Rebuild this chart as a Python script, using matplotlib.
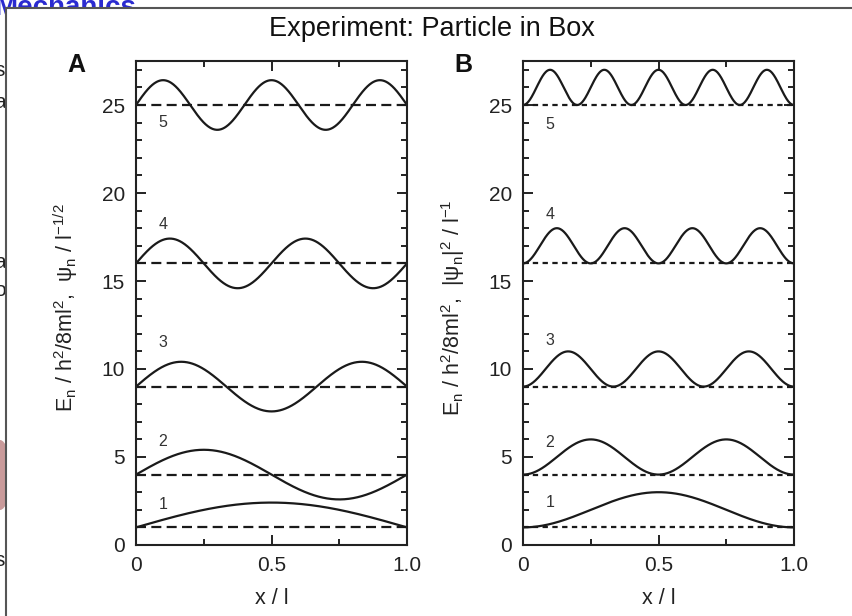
import numpy as np
import matplotlib
matplotlib.use("Agg")
import matplotlib.pyplot as plt
from matplotlib.patches import Rectangle, Ellipse
from matplotlib.lines import Line2D
from matplotlib.ticker import MultipleLocator, FixedLocator

plt.rcParams['font.family'] = ['Liberation Sans', 'DejaVu Sans']
plt.rcParams['mathtext.fontset'] = 'custom'
plt.rcParams['mathtext.rm'] = 'Liberation Sans'
plt.rcParams['mathtext.default'] = 'regular'

# energy levels E_n (units h^2/8ml^2) and quantum numbers
n_levels = [1, 2, 3, 4, 5]
energies = [1, 4, 9, 16, 25]
psi_amp = 1.41        # amplitude of psi_n
prob_peak = 2.0       # peak of |psi_n|^2
x_ticks = [0, 0.5, 1.0]
x_ticklabels = ['0', '0.5', '1.0']
y_ticks = [0, 5, 10, 15, 20, 25]
# where the small level numbers sit (x, y in data units)
label_pos_a = [(0.1, 2.3), (0.1, 5.9), (0.1, 11.5), (0.1, 18.2), (0.1, 24.0)]
label_pos_b = [(0.1, 2.4), (0.1, 5.8), (0.1, 11.6), (0.1, 18.8), (0.1, 23.9)]

W, H = 852, 616
fig = plt.figure(figsize=(W / 100, H / 100), dpi=100)

# background slide bits peeking out around the frame
fig.text(-6 / W, 1 - 15 / H, 'Mechanics', color='#2a2ad0', fontsize=20,
         fontweight='bold', va='baseline', zorder=-3)
fig.patches.append(Ellipse((0, 1 - 475 / H), 22 / W, 70 / H, transform=fig.transFigure,
                           facecolor='#c99a9a', edgecolor='none', zorder=-3))
for yy, ch in [(70, 's'), (103, 'a'), (262, 'a'), (290, 'o'), (560, 's')]:
    fig.text(-6 / W, 1 - yy / H, ch, fontsize=15, color='#222', va='center', zorder=-3)
fig.patches.append(Rectangle((6 / W, 0), 1, 1 - 8 / H, transform=fig.transFigure,
                             facecolor='white', edgecolor='none', zorder=-2))
fig.lines.append(Line2D([6 / W, 6 / W], [0, 1 - 8 / H], transform=fig.transFigure,
                        color='#555', lw=1.5, zorder=-1))
fig.lines.append(Line2D([6 / W, 1], [1 - 8 / H, 1 - 8 / H], transform=fig.transFigure,
                        color='#555', lw=1.5, zorder=-1))

fig.text(432 / W, 1 - 29 / H, 'Experiment: Particle in Box', ha='center', va='center',
         fontsize=19.5, color='#111')

x = np.linspace(0, 1, 500)
ax_a = fig.add_axes([136 / W, 1 - 545 / H, 271 / W, 484 / H])
ax_b = fig.add_axes([523 / W, 1 - 545 / H, 271 / W, 484 / H])

for n, e, (lx, ly) in zip(n_levels, energies, label_pos_a):
    ax_a.plot(x, e + psi_amp * np.sin(n * np.pi * x), color='#1a1a1a', lw=1.6)
    ax_a.axhline(e, color='#1a1a1a', lw=1.6, ls=(0, (4.5, 2.4)))
    ax_a.text(lx, ly, str(n), fontsize=11.5, color='#333', ha='center', va='center')

for n, e, (lx, ly) in zip(n_levels, energies, label_pos_b):
    ax_b.plot(x, e + prob_peak * np.sin(n * np.pi * x) ** 2, color='#1a1a1a', lw=1.6)
    ax_b.axhline(e, color='#1a1a1a', lw=1.6, ls=(0, (2.4, 2.0)))
    ax_b.text(lx, ly, str(n), fontsize=11.5, color='#333', ha='center', va='center')

for ax, letter, ylab in [
        (ax_a, 'A', 'E$_n$ / h$^2$/8ml$^2$,  ψ$_n$ / l$^{-1/2}$'),
        (ax_b, 'B', 'E$_n$ / h$^2$/8ml$^2$,  |ψ$_n$|$^2$ / l$^{-1}$')]:
    ax.set_xlim(0, 1)
    ax.set_ylim(0, 27.5)
    ax.xaxis.set_major_locator(FixedLocator(x_ticks))
    ax.set_xticklabels(x_ticklabels)
    ax.xaxis.set_minor_locator(MultipleLocator(0.25))
    ax.yaxis.set_major_locator(FixedLocator(y_ticks))
    ax.yaxis.set_minor_locator(MultipleLocator(1))
    ax.tick_params(which='both', direction='in', top=True, right=True,
                   width=1.4, color='#222', labelsize=15, labelcolor='#222', pad=8)
    ax.tick_params(which='major', length=7)
    ax.tick_params(which='minor', length=4.3)
    for sp in ax.spines.values():
        sp.set_linewidth(1.5)
        sp.set_color('#222')
    ax.set_xlabel('x / l', fontsize=15.5, color='#222', labelpad=9)
    ax.set_ylabel(ylab, fontsize=15.5, color='#222')
    ax.yaxis.set_label_coords(-0.205, 0.49)
    ax.text(-0.22, 0.992, letter, transform=ax.transAxes, fontsize=18, fontweight='bold',
            ha='center', va='center', color='#111')

fig.savefig('out.png', dpi=100)
